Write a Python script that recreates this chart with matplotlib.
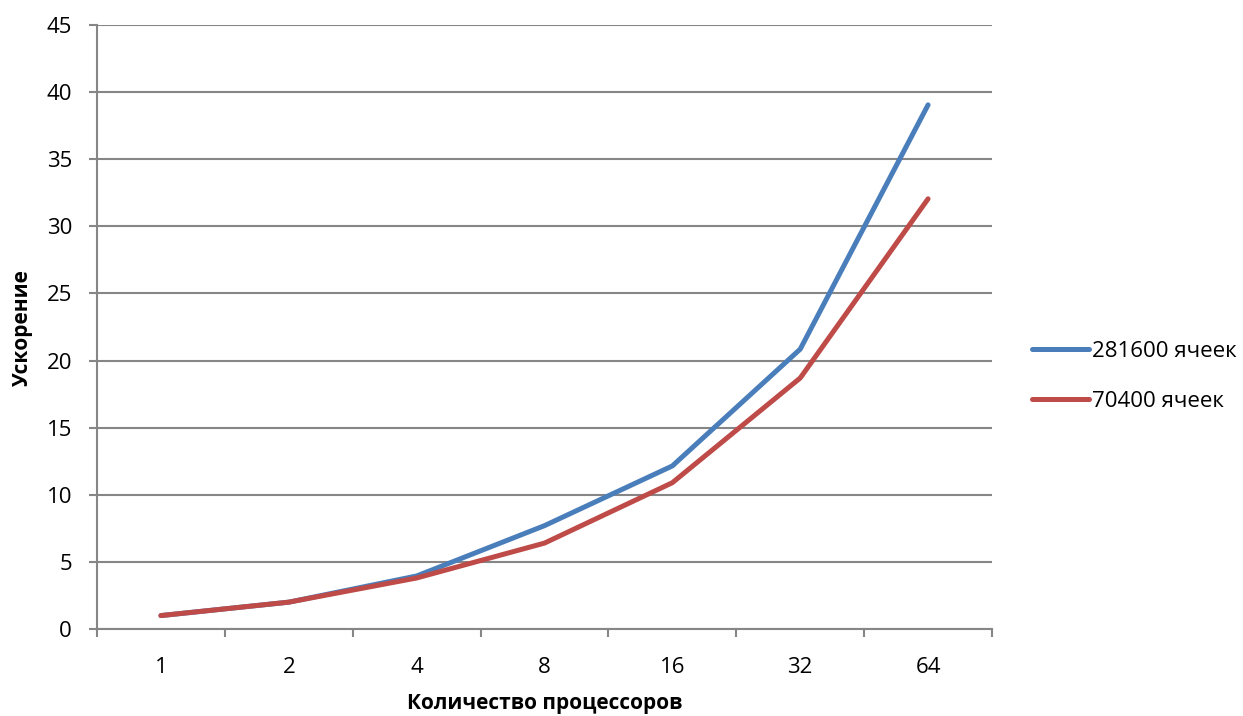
import matplotlib.pyplot as plt
import numpy as np

plt.rcParams['font.family'] = ['Open Sans', 'DejaVu Sans']

procs = ['1', '2', '4', '8', '16', '32', '64']
speedup_281600 = [1.0, 2.0, 3.95, 7.7, 12.15, 20.85, 39.05]
speedup_70400 = [1.0, 2.0, 3.8, 6.4, 10.9, 18.7, 32.05]
series_names = ['281600 ячеек', '70400 ячеек']

W, H = 1243, 716
fig = plt.figure(figsize=(W / 100, H / 100), dpi=100)
ax = fig.add_axes([97 / W, 1 - 629 / H, (992 - 97) / W, (629 - 25) / H])

grey = '#868686'
x = np.arange(len(procs))
ax.plot(x, speedup_281600, color='#4a7ebb', lw=3.6, solid_capstyle='round',
        solid_joinstyle='round', label=series_names[0])
ax.plot(x, speedup_70400, color='#be4b48', lw=3.6, solid_capstyle='round',
        solid_joinstyle='round', label=series_names[1])

ax.set_xlim(-0.5, len(procs) - 0.5)
ax.set_ylim(0, 45)
ax.set_yticks(range(0, 46, 5))
ax.yaxis.grid(True, color=grey, lw=1.5)
ax.set_axisbelow(True)

# category labels in the middle, tick marks on the boundaries
ax.set_xticks(np.arange(-0.5, len(procs), 1))
ax.set_xticklabels([])
ax.set_xticks(x, minor=True)
ax.set_xticklabels(procs, minor=True)
ax.tick_params(axis='x', which='minor', length=0, pad=20, labelsize=16)
ax.tick_params(axis='x', which='major', length=6, width=1.5, color=grey)
ax.tick_params(axis='y', length=6, width=1.5, color=grey, labelsize=16, pad=12)

for side in ['top', 'right']:
    ax.spines[side].set_visible(False)
for side in ['left', 'bottom']:
    ax.spines[side].set_color(grey)
    ax.spines[side].set_linewidth(1.5)

ax.set_xlabel('Количество процессоров', fontsize=15, fontweight='bold', va='center')
ax.set_ylabel('Ускорение', fontsize=15, fontweight='bold', va='center')
ax.xaxis.set_label_coords(0.5, (629 - 703) / 604)
ax.yaxis.set_label_coords((22 - 97) / 895, (629 - 328) / 604)

ax.legend(loc='center left', bbox_to_anchor=(1.022, 0.418), frameon=False,
          fontsize=16, handlelength=2.6, handletextpad=0.1, labelspacing=1.3)

fig.savefig('out.png', dpi=100)
